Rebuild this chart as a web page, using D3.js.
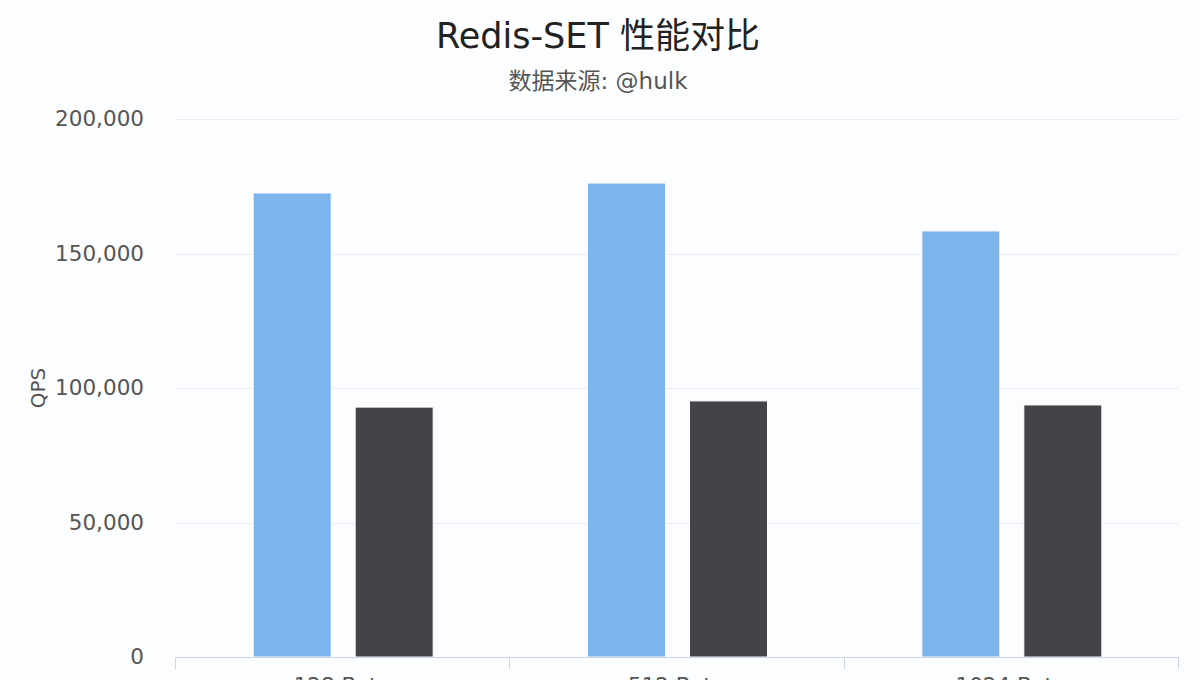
<!DOCTYPE html>
<html>
<head>
<meta charset="utf-8">
<script src="https://cdn.jsdelivr.net/npm/d3@7/dist/d3.min.js"></script>
<style>
  html, body { margin: 0; padding: 0; background: #fcfdfe; }
  svg { display: block; font-family: "DejaVu Sans", "Noto Sans CJK SC", sans-serif; }
</style>
</head>
<body>
<div id="chart"></div>
<script>
// data
const categories = ["128 Byte", "512 Byte", "1024 Byte"];
const seriesNames = ["Redis", "Pika"];
const redisValues = [172500, 176200, 158400];
const pikaValues = [92900, 95200, 93700];
const yTicks = [0, 50000, 100000, 150000, 200000];

const width = 1200;
const height = 680;
const margin = { top: 119, right: 22, bottom: 23, left: 175 };

const svg = d3.select("#chart")
    .append("svg")
    .attr("width", width)
    .attr("height", height);

svg.append("rect")
    .attr("width", width)
    .attr("height", height)
    .attr("fill", "#fcfdfe");

const innerW = width - margin.left - margin.right;
const innerH = height - margin.top - margin.bottom;

const g = svg.append("g")
    .attr("transform", `translate(${margin.left},${margin.top})`);

// scales
const x0 = d3.scaleBand()
    .domain(categories)
    .range([0, innerW]);

const groupPad = (x0.bandwidth() - 180) / 2;
const x1 = d3.scaleBand()
    .domain(seriesNames)
    .range([groupPad + 1, x0.bandwidth() - groupPad + 1])
    .paddingInner(0.235);

const y = d3.scaleLinear()
    .domain([0, 200000])
    .range([innerH, 0]);

const color = d3.scaleOrdinal()
    .domain(seriesNames)
    .range(["#7cb5ec", "#434348"]);

// grid lines
g.append("g")
    .selectAll("line")
    .data(yTicks.filter(d => d > 0))
    .enter()
    .append("line")
    .attr("x1", 0)
    .attr("x2", innerW)
    .attr("y1", d => Math.round(y(d)) + 0.5)
    .attr("y2", d => Math.round(y(d)) + 0.5)
    .attr("stroke", "#e8ecf2")
    .attr("stroke-width", 1);

// y axis labels
const yAxis = d3.axisLeft(y)
    .tickValues(yTicks)
    .tickSize(0)
    .tickPadding(31)
    .tickFormat(d3.format(","));

g.append("g")
    .call(yAxis)
    .call(s => s.select(".domain").remove())
    .selectAll("text")
    .attr("font-size", 21.5)
    .attr("fill", "#555")
    .attr("font-family", "DejaVu Sans, sans-serif");

// bars
const rows = categories.map((c, i) => ({ cat: c, values: [redisValues[i], pikaValues[i]] }));

const groups = g.selectAll("g.cat")
    .data(rows)
    .enter()
    .append("g")
    .attr("class", "cat")
    .attr("transform", d => `translate(${x0(d.cat)},0)`);

groups.selectAll("rect")
    .data(d => d.values.map((v, i) => ({ name: seriesNames[i], value: v })))
    .enter()
    .append("rect")
    .attr("x", d => x1(d.name))
    .attr("width", x1.bandwidth())
    .attr("y", d => y(d.value))
    .attr("height", d => innerH - y(d.value))
    .attr("fill", d => color(d.name))
    .attr("stroke", "#ffffff")
    .attr("stroke-width", 1);

// x axis
const boundaries = categories.map(c => x0(c)).concat([innerW]);
const xg = g.append("g").attr("transform", `translate(0,${innerH})`);
xg.append("line")
    .attr("x1", 0)
    .attr("x2", innerW)
    .attr("y1", 0.5)
    .attr("y2", 0.5)
    .attr("stroke", "#ccd6eb");
xg.selectAll("line.tick")
    .data(boundaries)
    .enter()
    .append("line")
    .attr("class", "tick")
    .attr("x1", d => Math.round(d) + 0.5)
    .attr("x2", d => Math.round(d) + 0.5)
    .attr("y1", 0)
    .attr("y2", 12)
    .attr("stroke", "#ccd6eb");
xg.selectAll("text")
    .data(categories)
    .enter()
    .append("text")
    .attr("x", d => x0(d) + x0.bandwidth() / 2)
    .attr("y", 36)
    .attr("text-anchor", "middle")
    .attr("font-size", 21.5)
    .attr("fill", "#555")
    .text(d => d);

// y axis title
svg.append("text")
    .attr("transform", `translate(45,${margin.top + innerH / 2}) rotate(-90)`)
    .attr("text-anchor", "middle")
    .attr("font-size", 20)
    .attr("fill", "#555")
    .text("QPS");

// titles
svg.append("text")
    .attr("x", 598)
    .attr("y", 48)
    .attr("text-anchor", "middle")
    .attr("font-size", 35)
    .attr("fill", "#222")
    .text("Redis-SET 性能对比");

svg.append("text")
    .attr("x", 598)
    .attr("y", 89)
    .attr("text-anchor", "middle")
    .attr("font-size", 23)
    .attr("fill", "#555")
    .text("数据来源: @hulk");
</script>
</body>
</html>
